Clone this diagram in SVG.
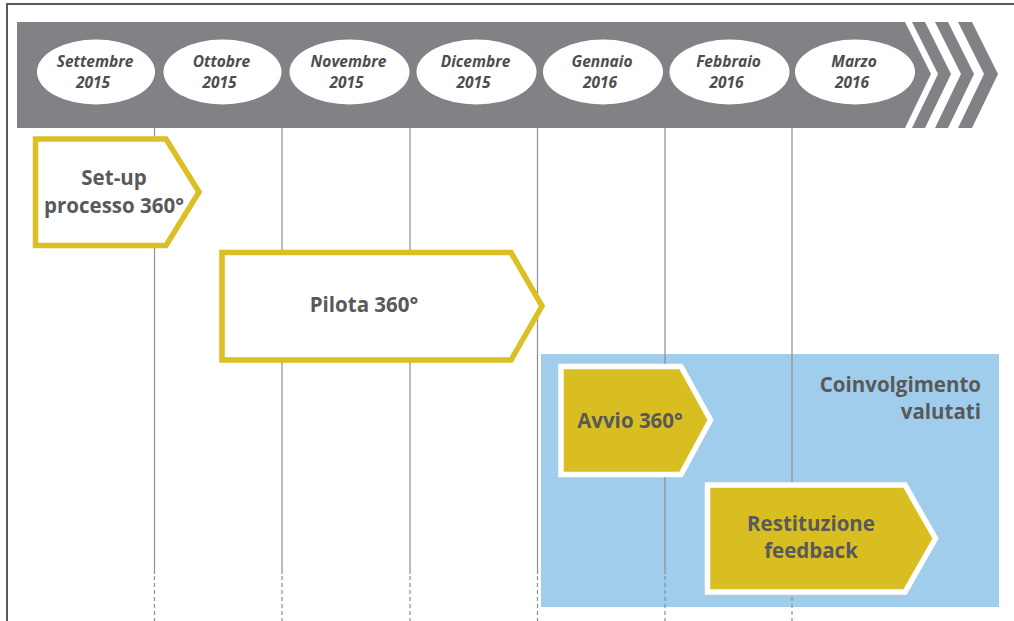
<svg xmlns="http://www.w3.org/2000/svg" width="1014" height="621" viewBox="0 0 1014 621">
  <style>
    .band { fill: #808285; }
    .month { fill: #ffffff; }
    .mlabel { font-family: "Open Sans", "Liberation Sans", sans-serif; font-style: italic; font-weight: 700; font-size: 15.5px; fill: #4d4d4f; text-anchor: middle; }
    .grid { stroke: #8e8e90; stroke-width: 1.2; fill: none; }
    .grid-dash { stroke: #8e8e90; stroke-width: 1.2; fill: none; stroke-dasharray: 4 3; }
    .frame { stroke: #5a5a5c; stroke-width: 2; fill: none; }
    .phase-open { fill: #ffffff; stroke: #dbbf24; stroke-width: 5.5; stroke-linejoin: miter; }
    .phase-solid { fill: #d9be22; stroke: #ffffff; stroke-width: 5.5; stroke-linejoin: miter; }
    .label { font-family: "Open Sans", "Liberation Sans", sans-serif; font-weight: 700; font-size: 20.5px; fill: #58595b; text-anchor: middle; }
    .zone-label { font-family: "Open Sans", "Liberation Sans", sans-serif; font-weight: 700; font-size: 20.5px; fill: #58595b; text-anchor: end; }
  </style>

  <rect x="0" y="0" width="1014" height="621" fill="#ffffff"/>

  <!-- page frame: top and left rules -->
  <path class="frame" d="M7 621 V4 H1014"/>

  <!-- timeline band with trailing chevrons -->
  <g id="timeline">
    <polygon class="band" points="17,22 905,22 931,74 905,128 17,128"/>
    <polygon class="band" points="912,22 925,22 951,74 925,128 912,128 938,74"/>
    <polygon class="band" points="935,22 948,22 974,74 948,128 935,128 961,74"/>
    <polygon class="band" points="958,22 972,22 998,74 972,128 958,128 984,74"/>
  </g>

  <!-- engagement zone -->
  <rect id="zone" x="541" y="354" width="458" height="253" fill="#a1cdec"/>

  <!-- month dividers -->
  <g id="connectors">
    <path class="grid" d="M154.5 128 V574 M282 128 V574 M410 128 V574 M537.5 128 V574 M665 128 V574 M792 128 V574"/>
    <path class="grid-dash" d="M154.5 576 V621 M282 576 V621 M410 576 V621 M537.5 576 V621 M665 576 V621 M792 576 V621"/>
  </g>

  <!-- months -->
  <g id="m-set">
    <ellipse class="month" cx="96" cy="72" rx="59" ry="32.5"/>
    <text class="mlabel" x="95" y="67">Settembre</text>
    <text class="mlabel" x="93" y="88">2015</text>
  </g>
  <g id="m-ott">
    <ellipse class="month" cx="222.5" cy="72" rx="59" ry="32.5"/>
    <text class="mlabel" x="221.5" y="67">Ottobre</text>
    <text class="mlabel" x="219.5" y="88">2015</text>
  </g>
  <g id="m-nov">
    <ellipse class="month" cx="349.5" cy="72" rx="60" ry="32.5"/>
    <text class="mlabel" x="348.5" y="67">Novembre</text>
    <text class="mlabel" x="346.5" y="88">2015</text>
  </g>
  <g id="m-dic">
    <ellipse class="month" cx="476.5" cy="72" rx="60" ry="32.5"/>
    <text class="mlabel" x="475.5" y="67">Dicembre</text>
    <text class="mlabel" x="473.5" y="88">2015</text>
  </g>
  <g id="m-gen">
    <ellipse class="month" cx="603" cy="72" rx="60" ry="32.5"/>
    <text class="mlabel" x="602" y="67">Gennaio</text>
    <text class="mlabel" x="600" y="88">2016</text>
  </g>
  <g id="m-feb">
    <ellipse class="month" cx="729.5" cy="72" rx="60" ry="32.5"/>
    <text class="mlabel" x="728.5" y="67">Febbraio</text>
    <text class="mlabel" x="726.5" y="88">2016</text>
  </g>
  <g id="m-mar">
    <ellipse class="month" cx="855" cy="72" rx="60" ry="32.5"/>
    <text class="mlabel" x="854" y="67">Marzo</text>
    <text class="mlabel" x="852" y="88">2016</text>
  </g>

  <!-- phases -->
  <g id="setup">
    <polygon class="phase-open" points="35.5,139 166,139 199,192 166,245.5 35.5,245.5"/>
    <text class="label" x="114" y="185">Set-up</text>
    <text class="label" x="114" y="213">processo 360°</text>
  </g>
  <g id="pilota">
    <polygon class="phase-open" points="222,252.5 511,252.5 542,306 511,360 222,360"/>
    <text class="label" x="364" y="312">Pilota 360°</text>
  </g>
  <g id="avvio">
    <polygon class="phase-solid" points="561,366.5 681,366.5 710.5,420 681,474.5 561,474.5"/>
    <text class="label" x="630" y="428">Avvio 360°</text>
  </g>
  <g id="restituzione">
    <polygon class="phase-solid" points="707.5,485 905,485 935.5,538.5 905,592 707.5,592"/>
    <text class="label" x="811" y="531">Restituzione</text>
    <text class="label" x="811" y="558">feedback</text>
  </g>
  <g id="coinvolgimento">
    <text class="zone-label" x="981" y="392">Coinvolgimento</text>
    <text class="zone-label" x="981" y="419">valutati</text>
  </g>
</svg>
